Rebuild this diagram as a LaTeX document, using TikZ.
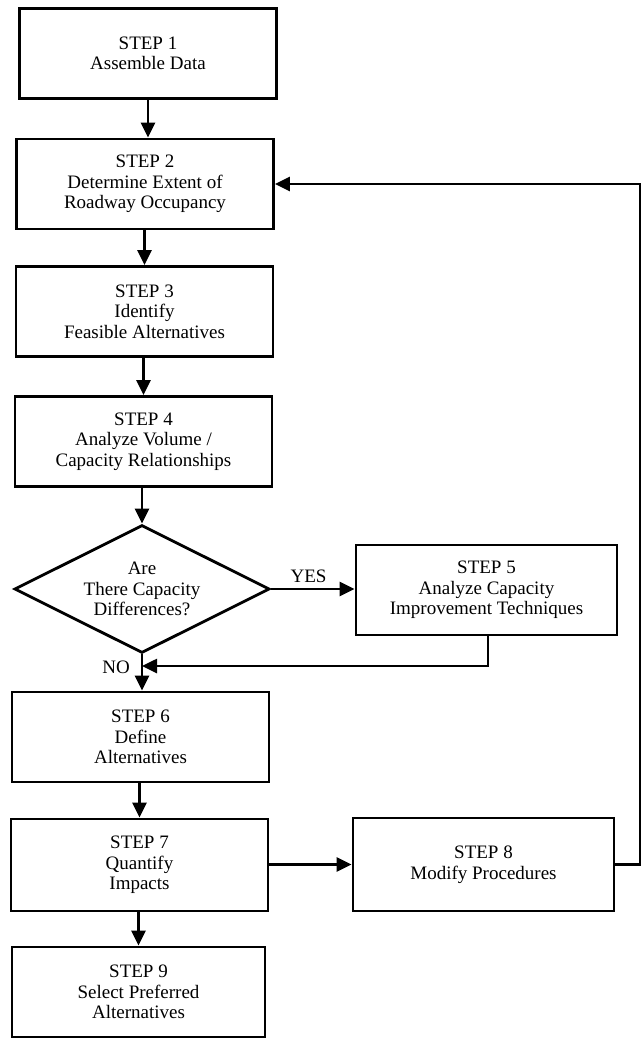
\documentclass[tikz,border=0pt]{standalone}
\usepackage{fontspec}
\setmainfont{Liberation Serif}
\usetikzlibrary{arrows.meta,shapes.geometric}
\begin{document}
\begin{tikzpicture}[x=1pt,y=-1pt,
  txt/.style={font=\fontsize{19}{20.5}\selectfont},
  stepbox/.style={draw,line width=2.8pt,minimum width=257pt,minimum height=90pt,align=center,inner sep=2pt,txt},
  decision/.style={draw,diamond,line width=2.8pt,minimum width=255pt,minimum height=128pt,aspect=2,inner sep=0pt,align=center,txt},
  flow/.style={line width=2.6pt,line join=miter,-{Triangle[length=15pt,width=14pt]}},
  lbl/.style={inner sep=0pt,txt}]
\useasboundingbox (0,0) rectangle (644,1038);
\node[stepbox] (s1) at (148,53.5) {STEP 1\\Assemble Data};
\node[stepbox] (s2) at (145,184) {STEP 2\\Determine Extent of\\Roadway Occupancy};
\node[stepbox] (s3) at (144.5,311.5) {STEP 3\\Identify\\Feasible Alternatives};
\node[stepbox] (s4) at (143.5,441.5) {STEP 4\\Analyze Volume /\\Capacity Relationships};
\node[decision] (d) at (142,589) {Are\\There Capacity\\Differences?};
\node[stepbox,minimum width=261pt] (s5) at (486.5,590) {STEP 5\\Analyze Capacity\\Improvement Techniques};
\node[stepbox] (s6) at (140.5,737) {STEP 6\\Define\\Alternatives};
\node[stepbox,minimum height=92pt] (s7) at (139.5,865) {STEP 7\\Quantify\\Impacts};
\node[stepbox,minimum width=261pt,minimum height=93pt] (s8) at (483.5,864.5) {STEP 8\\Modify Procedures};
\node[stepbox,minimum width=253pt] (s9) at (138.5,992) {STEP 9\\Select Preferred\\Alternatives};
\coordinate (fx) at (640,184);
\coordinate (m) at (142,666);
\coordinate (r5) at (488,666);
\draw[flow] (s1) -- (s1 |- s2.north);
\draw[flow] (s2.south -| s3) -- (s3);
\draw[flow] (s3.south -| s4) -- (s4);
\draw[flow] (s4.south -| d) -- (d);
\draw[flow] (d) -- (d.east -| s5.west) node[lbl,pos=0.45,above=5pt] {YES};
\draw[flow] (d.south) -- (d.south |- s6.north);
\draw[flow] (s5.south -| r5) -- (r5) -- (m);
\node[lbl,anchor=east] (no) at (130,667) {NO};
\draw[flow] (s6.south -| s7) -- (s7);
\draw[flow] (s7.south -| s9) -- (s9);
\draw[flow] (s7.east |- s8) -- (s8);
\draw[flow] (s8.east) -- (s8.east -| fx) -- (fx) -- (s2.east);
\end{tikzpicture}
\end{document}
